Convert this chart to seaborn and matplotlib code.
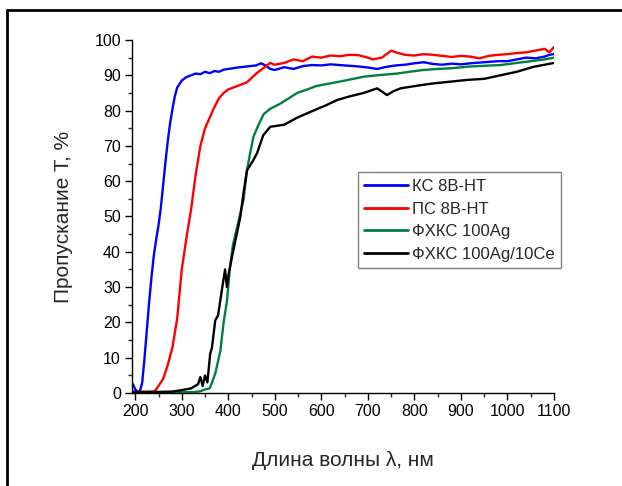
import matplotlib
matplotlib.use("Agg")
import matplotlib.pyplot as plt
from matplotlib.lines import Line2D
from matplotlib.ticker import MultipleLocator
import seaborn as sns
import pandas as pd

labels = ["КС 8В-НТ", "ПС 8В-НТ", "ФХКС 100Ag", "ФХКС 100Ag/10Ce"]
colors = ["#0000ff", "#ff0000", "#008040", "#000000"]

blue_x = [190, 195, 200, 205, 210, 215, 220, 225, 230, 235, 240, 245, 250, 255, 260, 265, 270, 275, 280, 285,
          290, 300, 310, 320, 330, 340, 350, 360, 370, 380, 390, 400, 420, 440, 460, 470, 480, 490, 500, 520,
          540, 560, 580, 600, 620, 640, 660, 680, 700, 720, 740, 760, 780, 800, 820, 840, 860, 880, 900, 920,
          940, 960, 980, 1000, 1020, 1040, 1060, 1080, 1090, 1100]
blue_y = [2.0, 2.5, 1.0, 0.4, 0.5, 3.0, 10.0, 18.0, 26.0, 33.0, 39.0, 43.5, 47.5, 52.5, 59.0, 65.5, 71.5, 76.5, 80.5, 84.0,
          86.5, 88.5, 89.5, 90.0, 90.5, 90.3, 91.0, 90.6, 91.2, 91.0, 91.6, 91.8, 92.2, 92.5, 92.8, 93.4, 92.8, 91.8, 91.5, 92.3,
          91.8, 92.6, 92.9, 92.8, 93.1, 92.9, 92.7, 92.5, 92.2, 91.8, 92.4, 92.8, 93.0, 93.4, 93.7, 93.2, 93.0, 93.3, 93.1, 93.4,
          93.6, 93.8, 94.0, 94.0, 94.5, 95.0, 94.8, 95.3, 95.8, 96.0]

red_x = [190, 200, 220, 240, 245, 250, 260, 270, 280, 290, 300, 310, 320, 330, 340, 350, 360, 370, 380, 390,
         400, 420, 440, 460, 480, 490, 500, 520, 540, 560, 580, 600, 620, 640, 660, 680, 700, 710, 730, 750,
         760, 780, 800, 820, 840, 860, 880, 900, 920, 940, 960, 980, 1000, 1020, 1040, 1060, 1080, 1090, 1100]
red_y = [0.3, 0.3, 0.3, 0.4, 1.0, 2.0, 4.0, 8.0, 13.0, 21.0, 35.0, 44.0, 52.0, 62.0, 70.0, 75.0, 78.0, 81.0, 83.5, 85.0,
         86.0, 87.0, 88.0, 90.5, 92.5, 93.5, 93.0, 93.5, 94.5, 94.0, 95.3, 95.0, 95.6, 95.4, 95.8, 95.7, 95.0, 94.5, 95.0, 97.0,
         96.5, 95.8, 95.6, 96.0, 95.8, 95.5, 95.2, 95.5, 95.3, 94.8, 95.5, 95.8, 96.0, 96.3, 96.5, 97.0, 97.5, 96.5, 98.0]

green_x = [190, 250, 300, 330, 340, 350, 360, 365, 372, 383, 390, 397, 404, 410, 419, 433, 440, 447, 454, 465,
           476, 490, 512, 530, 548, 570, 590, 619, 650, 691, 720, 763, 790, 819, 850, 880, 920, 985, 1020, 1050,
           1080, 1100]
green_y = [0.2, 0.2, 0.2, 0.3, 0.5, 1.0, 1.3, 3.0, 5.5, 12.0, 20.0, 26.0, 36.0, 42.0, 47.0, 55.0, 63.0, 68.0, 72.6, 76.0,
           79.0, 80.5, 82.0, 83.5, 85.0, 86.0, 87.0, 87.7, 88.5, 89.6, 90.0, 90.5, 91.0, 91.5, 91.8, 92.0, 92.5, 92.9, 93.5, 94.0,
           94.5, 95.0]

black_x = [190, 250, 280, 300, 320, 335, 340, 345, 350, 355, 361, 365, 372, 378, 386, 393, 397, 401, 411, 426,
           433, 440, 454, 462, 475, 490, 520, 548, 583, 610, 634, 660, 691, 720, 741, 755, 770, 813, 841, 914,
           950, 985, 1020, 1056, 1080, 1100]
black_y = [0.3, 0.3, 0.4, 0.8, 1.3, 2.5, 4.5, 2.0, 5.0, 3.0, 11.0, 13.0, 20.6, 22.0, 29.0, 35.0, 30.0, 34.0, 40.5, 50.0,
           57.0, 63.0, 66.0, 68.0, 73.0, 75.4, 76.0, 78.0, 80.0, 81.5, 83.0, 84.0, 85.0, 86.3, 84.4, 85.5, 86.3, 87.2, 87.7, 88.7,
           89.0, 90.0, 91.0, 92.4, 93.0, 93.5]

x_ticks = [200, 300, 400, 500, 600, 700, 800, 900, 1000, 1100]
y_ticks = [0, 10, 20, 30, 40, 50, 60, 70, 80, 90, 100]

frames = []
for lab, xs, ys in zip(labels, [blue_x, red_x, green_x, black_x], [blue_y, red_y, green_y, black_y]):
    frames.append(pd.DataFrame({"x": xs, "y": ys, "s": lab}))
df = pd.concat(frames, ignore_index=True)

sns.set_style("ticks")
plt.rcParams["font.family"] = ["Liberation Sans", "DejaVu Sans"]

fig = plt.figure(figsize=(6.22, 4.86), dpi=100)
ax = fig.add_axes([0.2122, 0.1914, 0.6785, 0.7263])
sns.lineplot(data=df, x="x", y="y", hue="s", palette=dict(zip(labels, colors)),
             hue_order=labels, sort=False, estimator=None, linewidth=1.7, ax=ax, legend=False)

ax.set_xlim(193, 1100)
ax.set_ylim(0, 100)
ax.set_xticks(x_ticks)
ax.set_yticks(y_ticks)
ax.xaxis.set_minor_locator(MultipleLocator(50))
ax.yaxis.set_minor_locator(MultipleLocator(5))
ax.tick_params(which="major", direction="out", length=5, width=1, labelsize=11.5, colors="black", pad=3)
ax.tick_params(which="minor", direction="out", length=3, width=1)
for side in ["top", "right"]:
    ax.spines[side].set_visible(False)
for side in ["left", "bottom"]:
    ax.spines[side].set_linewidth(1.0)
    ax.spines[side].set_color("black")

ax.set_xlabel("Длина волны λ, нм", fontsize=15, labelpad=23)
ax.set_ylabel("Пропускание T, %", fontsize=15, labelpad=15)

handles = [Line2D([0], [0], color=c, lw=2) for c in colors]
leg = ax.legend(handles, labels, loc="upper left", bbox_to_anchor=(0.535, 0.625), fontsize=12,
                frameon=True, fancybox=False, edgecolor="#808080", framealpha=1,
                handlelength=2.6, handletextpad=0.25, borderpad=0.4, labelspacing=0.45, borderaxespad=0)
leg.get_frame().set_linewidth(1.0)

fig.add_artist(Line2D([7 / 622, 7 / 622], [0, 1 - 10 / 486], color="black", lw=2, transform=fig.transFigure))
fig.add_artist(Line2D([7 / 622, 1], [1 - 10 / 486, 1 - 10 / 486], color="black", lw=2, transform=fig.transFigure))

fig.savefig("out.png", dpi=100)
